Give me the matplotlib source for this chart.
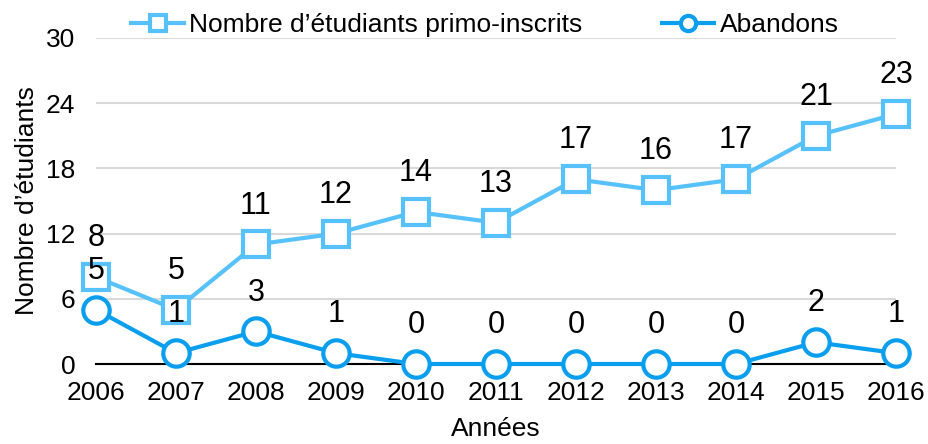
import matplotlib
matplotlib.use("Agg")
import matplotlib.pyplot as plt
from matplotlib.lines import Line2D

plt.rcParams['font.family'] = ['Liberation Sans', 'DejaVu Sans']

years = [2006, 2007, 2008, 2009, 2010, 2011, 2012, 2013, 2014, 2015, 2016]
inscrits = [8, 5, 11, 12, 14, 13, 17, 16, 17, 21, 23]
abandons = [5, 1, 3, 1, 0, 0, 0, 0, 0, 2, 1]
yticks = [0, 6, 12, 18, 24, 30]

c1 = '#57C1FC'
c2 = '#0A9EEE'

fig = plt.figure(figsize=(9.29, 4.44), dpi=100)
ax = fig.add_axes([96/929, 1-364/444, 800/929, 326/444])

ax.plot(years, inscrits, color=c1, lw=3, marker='s', ms=19, mfc='white',
        mec=c1, mew=3, clip_on=False, zorder=3)
ax.plot(years, abandons, color=c2, lw=3, marker='o', ms=19, mfc='white',
        mec=c2, mew=3, clip_on=False, zorder=4)

for x, v in zip(years, inscrits):
    ax.annotate(str(v), (x, v), xytext=(0, 28), textcoords='offset points',
                ha='center', va='center', fontsize=22, zorder=5)
for x, v in zip(years, abandons):
    ax.annotate(str(v), (x, v), xytext=(0, 28), textcoords='offset points',
                ha='center', va='center', fontsize=22, zorder=5)

ax.set_xlim(2006, 2016)
ax.set_ylim(0, 30)
ax.set_xticks(years)
ax.set_xticklabels([str(y) for y in years])
ax.set_yticks(yticks)
ax.tick_params(axis='both', length=0, labelsize=19)
ax.tick_params(axis='x', pad=12)
ax.tick_params(axis='y', pad=15)
ax.grid(axis='y', color='#D9D9D9', lw=1.5)
ax.set_axisbelow(True)
for s in ['top', 'right', 'left']:
    ax.spines[s].set_visible(False)
ax.spines['bottom'].set_color('black')
ax.spines['bottom'].set_linewidth(1.5)

ax.set_xlabel('Années', fontsize=19, labelpad=9)
ax.set_ylabel('Nombre d’étudiants', fontsize=19, labelpad=5)

handles = [Line2D([], [], color=c1, lw=3, marker='s', ms=11, mfc='white', mec=c1, mew=3),
           Line2D([], [], color=c2, lw=3, marker='o', ms=11, mfc='white', mec=c2, mew=3)]
fig.legend(handles, ['Nombre d’étudiants primo-inscrits', 'Abandons'],
           loc='center', bbox_to_anchor=(0.522, 1-25/444), ncol=2, frameon=False,
           fontsize=19, handlelength=2.0, handletextpad=0.2, columnspacing=3.0)

fig.savefig('out.png', dpi=100)
